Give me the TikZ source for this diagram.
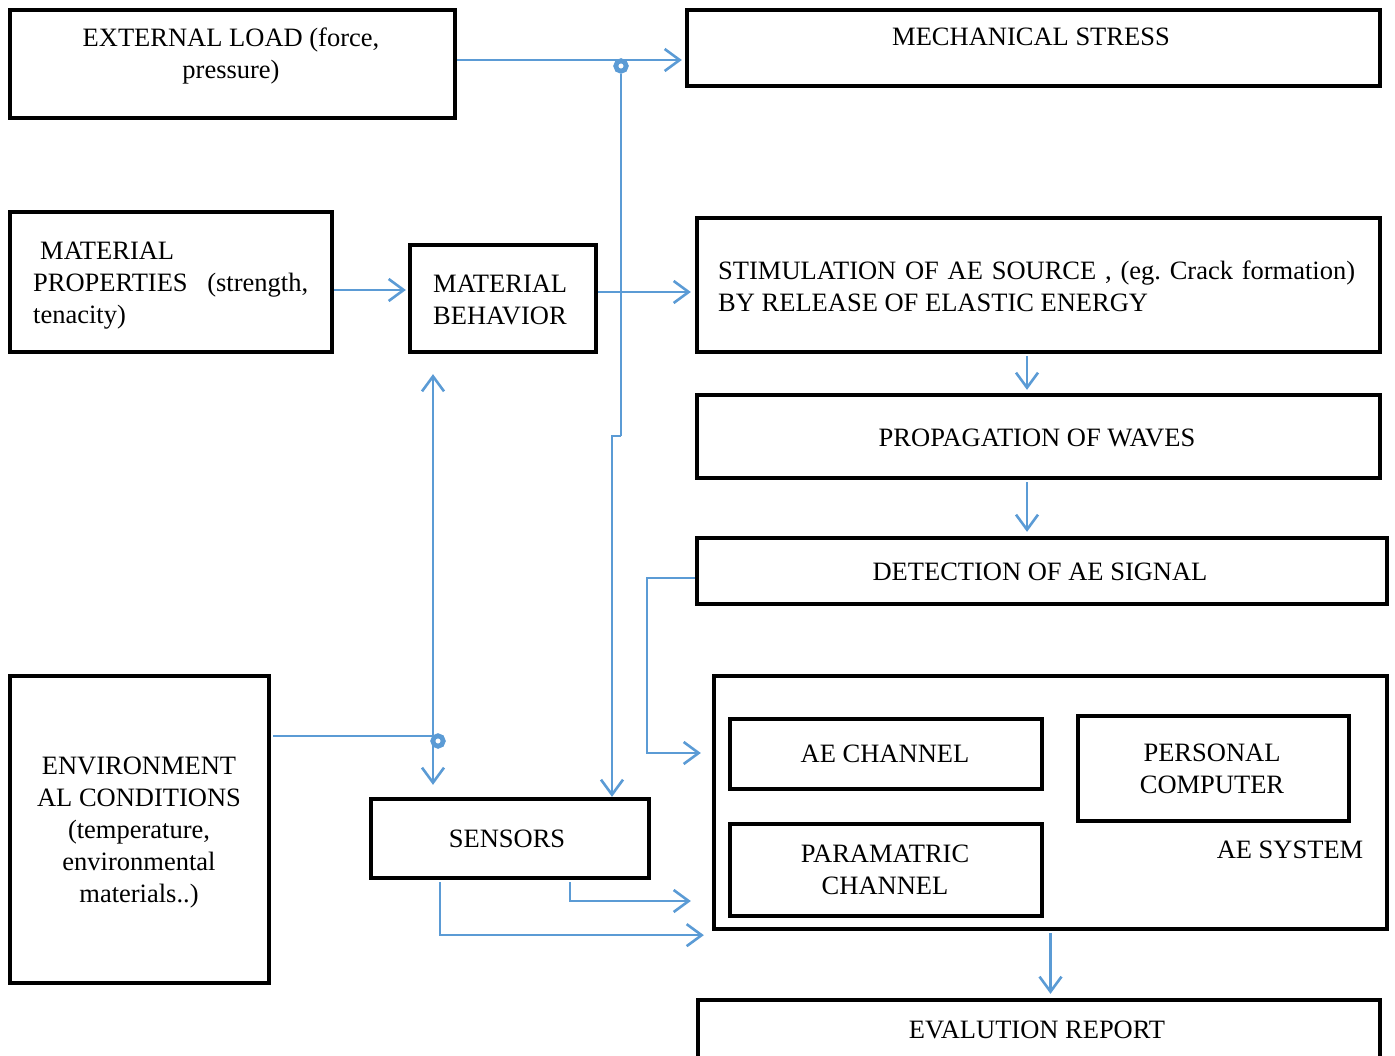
\documentclass[tikz,border=0pt]{standalone}
\usepackage{fontspec}
\setmainfont{Liberation Serif}
\usetikzlibrary{arrows.meta,calc}
\definecolor{lineblue}{RGB}{91,155,213}
\tikzset{
  box/.style={draw=black, line width=4.3pt, rectangle, inner sep=0pt},
  txt/.style={inner sep=0pt, font=\fontsize{26.5}{32}\selectfont, align=center},
  conn/.style={draw=lineblue, line width=2.6pt, -{Straight Barb[length=15pt,width=22pt]}},
  plainconn/.style={draw=lineblue, line width=2.6pt},
  ring/.style={circle, draw=lineblue, line width=4.8pt, minimum size=10.5pt, inner sep=0pt, fill=white},
}
\begin{document}
\begin{tikzpicture}[x=1pt,y=-1pt]
\useasboundingbox (0,0) rectangle (1395,1056);
% boxes
\node[box, minimum width=445pt, minimum height=108pt] (ext) at (232.5,64) {};
\node[box, minimum width=693pt, minimum height=76pt] (mech) at (1033.5,48) {};
\node[box, minimum width=322pt, minimum height=140pt] (matprop) at (171,282) {};
\node[box, minimum width=186pt, minimum height=107pt] (matbeh) at (503,298.5) {};
\node[box, minimum width=683pt, minimum height=134pt] (stim) at (1038.5,285) {};
\node[box, minimum width=683pt, minimum height=83pt] (prop) at (1038.5,436.5) {};
\node[box, minimum width=690pt, minimum height=66pt] (det) at (1042,571) {};
\node[box, minimum width=673pt, minimum height=253pt] (aesys) at (1050.5,802.5) {};
\node[box, minimum width=312pt, minimum height=70pt] (aech) at (886,754) {};
\node[box, minimum width=271pt, minimum height=105pt] (pc) at (1213.5,768.5) {};
\node[box, minimum width=312pt, minimum height=92pt] (param) at (886,870) {};
\node[box, minimum width=259pt, minimum height=307pt] (env) at (139.5,829.5) {};
\node[box, minimum width=278pt, minimum height=79pt] (sensors) at (510,838.5) {};
\node[box, minimum width=682pt, minimum height=80pt] (eval) at (1039,1040) {};
% texts
\node[txt, anchor=north] (t1) at (231,28) {EXTERNAL LOAD (force,\\pressure)};
\node[txt, anchor=north] (t2) at (1031,28) {MECHANICAL STRESS};
\node[txt, anchor=north west, align=left] (t3) at (33,242) {\hspace{7pt}MATERIAL\\PROPERTIES\hspace{13pt} (strength,\\tenacity)};
\node[txt, anchor=north west, align=left] (t4) at (433,275) {MATERIAL\\BEHAVIOR};
\node[txt, anchor=north west, align=left] (t5) at (718,261) {\makebox[637pt][s]{STIMULATION OF AE SOURCE , (eg.\ Crack formation)}\\BY RELEASE OF ELASTIC ENERGY};
\node[txt, anchor=north] (t6) at (1037,429) {PROPAGATION OF WAVES};
\node[txt, anchor=north] (t7) at (1040,563) {DETECTION OF AE SIGNAL};
\node[txt, anchor=north] (t8) at (885,745) {AE CHANNEL};
\node[txt, anchor=north] (t9) at (1212,744) {PERSONAL\\COMPUTER};
\node[txt, anchor=north] (t10) at (885,845) {PARAMATRIC\\CHANNEL};
\node[txt, anchor=north] (t11) at (1290,841) {AE SYSTEM};
\node[txt, anchor=north] (t12) at (139,757) {ENVIRONMENT\\AL CONDITIONS\\(temperature,\\environmental\\materials..)};
\node[txt, anchor=north] (t13) at (507,830) {SENSORS};
\node[txt, anchor=north] (t14) at (1037,1021) {EVALUTION REPORT};
% connectors
\coordinate (j1) at (621,60);
\coordinate (jogA) at (621,436);
\coordinate (jogB) at (612,436);
\draw[conn, shorten >=3pt] (ext.east |- j1) -- (mech.west |- j1);
\draw[conn] (jogA) -- (jogB) -- (jogB |- sensors.north);
\node[ring] (r1) at (621,66) {};
\draw[plainconn] (r1.south) -- (jogA);
\draw[conn, shorten >=2pt] ($(matprop.east)+(0,8)$) -- ($(matbeh.west)+(0,-8.5)$);
\draw[conn, shorten >=4pt] ($(matbeh.east)+(0,-6.5)$) -- ($(stim.west)+(0,7)$);
\draw[conn, {Straight Barb[length=15pt,width=22pt]}-{Straight Barb[length=15pt,width=22pt]}] ($(matbeh.south)+(-70,20)$) -- ($(sensors.north)+(-77,-12)$);
\node[ring] (r2) at (438,741) {};
\draw[plainconn] ($(env.east)+(2,-93.5)$) -- ($(r2)+(-5,-5)$);
\draw[conn] ($(stim.south)+(-11.5,2)$) -- ($(prop.north)+(-11.5,-3)$);
\draw[conn] ($(prop.south)+(-11.5,2)$) -- ($(det.north)+(-15,-4)$);
\draw[conn] ($(det.west)+(0,7)$) -- ++(-48,0) |- ($(aesys.west)+(-11,-49.5)$);
\draw[conn] ($(sensors.south)+(60,2)$) |- ($(aesys.west)+(-21,98.5)$);
\draw[conn] ($(sensors.south)+(-70,2)$) |- ($(aesys.south west)+(-8,4)$);
\draw[conn] ($(aesys.south)+(0,2)$) -- ($(aesys.south |- eval.north)+(0,-4)$);
\end{tikzpicture}
\end{document}
